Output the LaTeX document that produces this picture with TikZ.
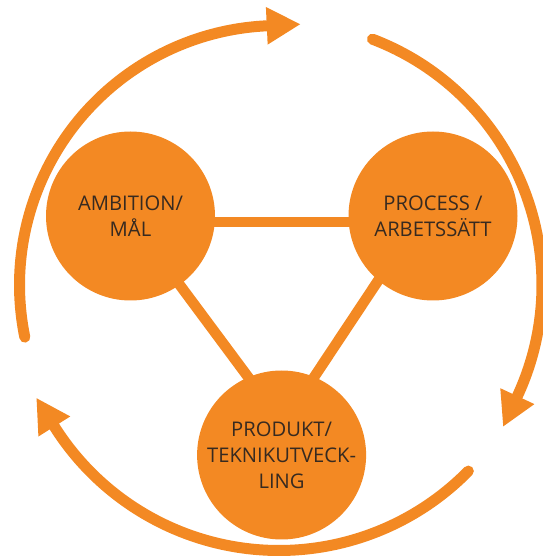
\documentclass[tikz,border=0pt]{standalone}
\usepackage{fontspec}
\setmainfont{Open Sans}
\usepackage{xcolor}
\usetikzlibrary{arrows.meta,backgrounds}
\definecolor{brandorange}{RGB}{243,137,35}
\definecolor{inktext}{RGB}{55,42,32}
\def\turn#1#2#3{\draw [loopline] (mid) ++(#1:#3pt) arc [start angle=#1,end angle=#2,radius=#3pt] -- ++(#2-90:34pt)}
\tikzstyle{hub}=[circle,fill=brandorange,minimum size=169pt,inner sep=0pt,align=center,text=inktext,font=\fontsize{20.2}{26}\selectfont]
\tikzstyle{link}=[draw=brandorange,line width=10.5pt]
\tikzstyle{loopline}=[draw=brandorange,line width=11pt,line cap=round,-{Triangle[length=34pt,width=35pt]}]

\begin{document}
\begin{tikzpicture}[x=1pt,y=1pt]
    \useasboundingbox (0,0) rectangle (543,558);
    \coordinate (mid) at (279,273);
    \node [hub] (ambition) at (130.5,342) {AMBITION/\\MÅL};
    \node [hub] (process) at (433,342) {PROCESS /\\ARBETSSÄTT};
    \node [hub] (produkt) at (281.6,103) {PRODUKT/\\TEKNIKUTVECK-\\LING};
    \coordinate (ambition-hub) at ([shift={(2.5,-6)}]ambition.center);
    \coordinate (process-hub) at ([shift={(-16,-6)}]process.center);
    \coordinate (produkt-hub) at ([shift={(1.4,31)}]produkt.center);
    \begin{scope}[on background layer]
      \draw [link] (ambition-hub) -- (process-hub);
      \draw [link] (ambition-hub) -- (produkt-hub);
      \draw [link] (process-hub) -- (produkt-hub);
    \end{scope}
    \turn{191.6}{92.7}{259.5};
    \turn{69.2}{-25}{263};
    \turn{-44.5}{-147.8}{265.5};
  \end{tikzpicture}
\end{document}
